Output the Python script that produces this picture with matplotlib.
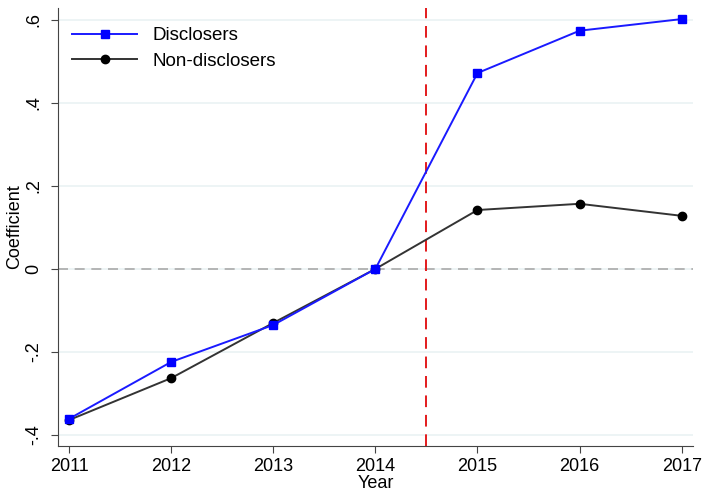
import matplotlib
matplotlib.use("Agg")
import matplotlib.pyplot as plt
from matplotlib.ticker import FuncFormatter

plt.rcParams['font.family'] = ['Liberation Sans', 'DejaVu Sans']

years = [2011, 2012, 2013, 2014, 2015, 2016, 2017]
disclosers = [-0.361, -0.224, -0.135, 0.0, 0.472, 0.574, 0.602]
non_disclosers = [-0.364, -0.263, -0.130, 0.0, 0.142, 0.157, 0.128]
yticks = [-0.4, -0.2, 0.0, 0.2, 0.4, 0.6]
event_line = 2014.5


def stata_fmt(v, pos):
    if abs(v) < 1e-9:
        return "0"
    s = f"{v:.1f}"
    return s.replace("0.", ".")


fig = plt.figure(figsize=(7.04, 4.92), dpi=100)
ax = fig.add_axes([0.0824, 0.0935, 0.9016, 0.8905])

for y in yticks:
    ax.axhline(y, color="#eaf2f3", lw=1.2, zorder=0)
ax.axhline(0, color="#aaaaaa", lw=1.2, ls=(0, (6, 4)), zorder=1)
ax.axvline(event_line, color="#e31a1c", lw=1.4, ls=(0, (6, 4)), zorder=1)

ax.plot(years, non_disclosers, color="#333333", lw=1.4, marker="o", ms=6,
        mfc="black", mec="black", label="Non-disclosers", zorder=3)
ax.plot(years, disclosers, color="#1a1aff", lw=1.4, marker="s", ms=6,
        mfc="#0000ff", mec="#0000ff", label="Disclosers", zorder=4)

ax.set_xlim(2010.892, 2017.108)
ax.set_ylim(-0.4265, 0.629)
ax.set_xticks(years)
ax.set_yticks(yticks)
ax.yaxis.set_major_formatter(FuncFormatter(stata_fmt))
ax.tick_params(axis="both", labelsize=13, length=5, color="#444444")
ax.tick_params(axis="y", pad=6)
plt.setp(ax.get_yticklabels(), rotation=90, va="center")

for side in ["top", "right"]:
    ax.spines[side].set_visible(False)
for side in ["left", "bottom"]:
    ax.spines[side].set_color("#444444")

ax.set_xlabel("Year", fontsize=13, labelpad=0)
ax.set_ylabel("Coefficient", fontsize=13, labelpad=2)

handles, labels = ax.get_legend_handles_labels()
ax.legend(handles[::-1], labels[::-1], loc="upper left", frameon=False, fontsize=13.5,
          handlelength=3.5, handletextpad=0.8, bbox_to_anchor=(-0.002, 0.99),
          borderaxespad=0.4, labelspacing=0.45)

fig.savefig("out.png", dpi=100)
